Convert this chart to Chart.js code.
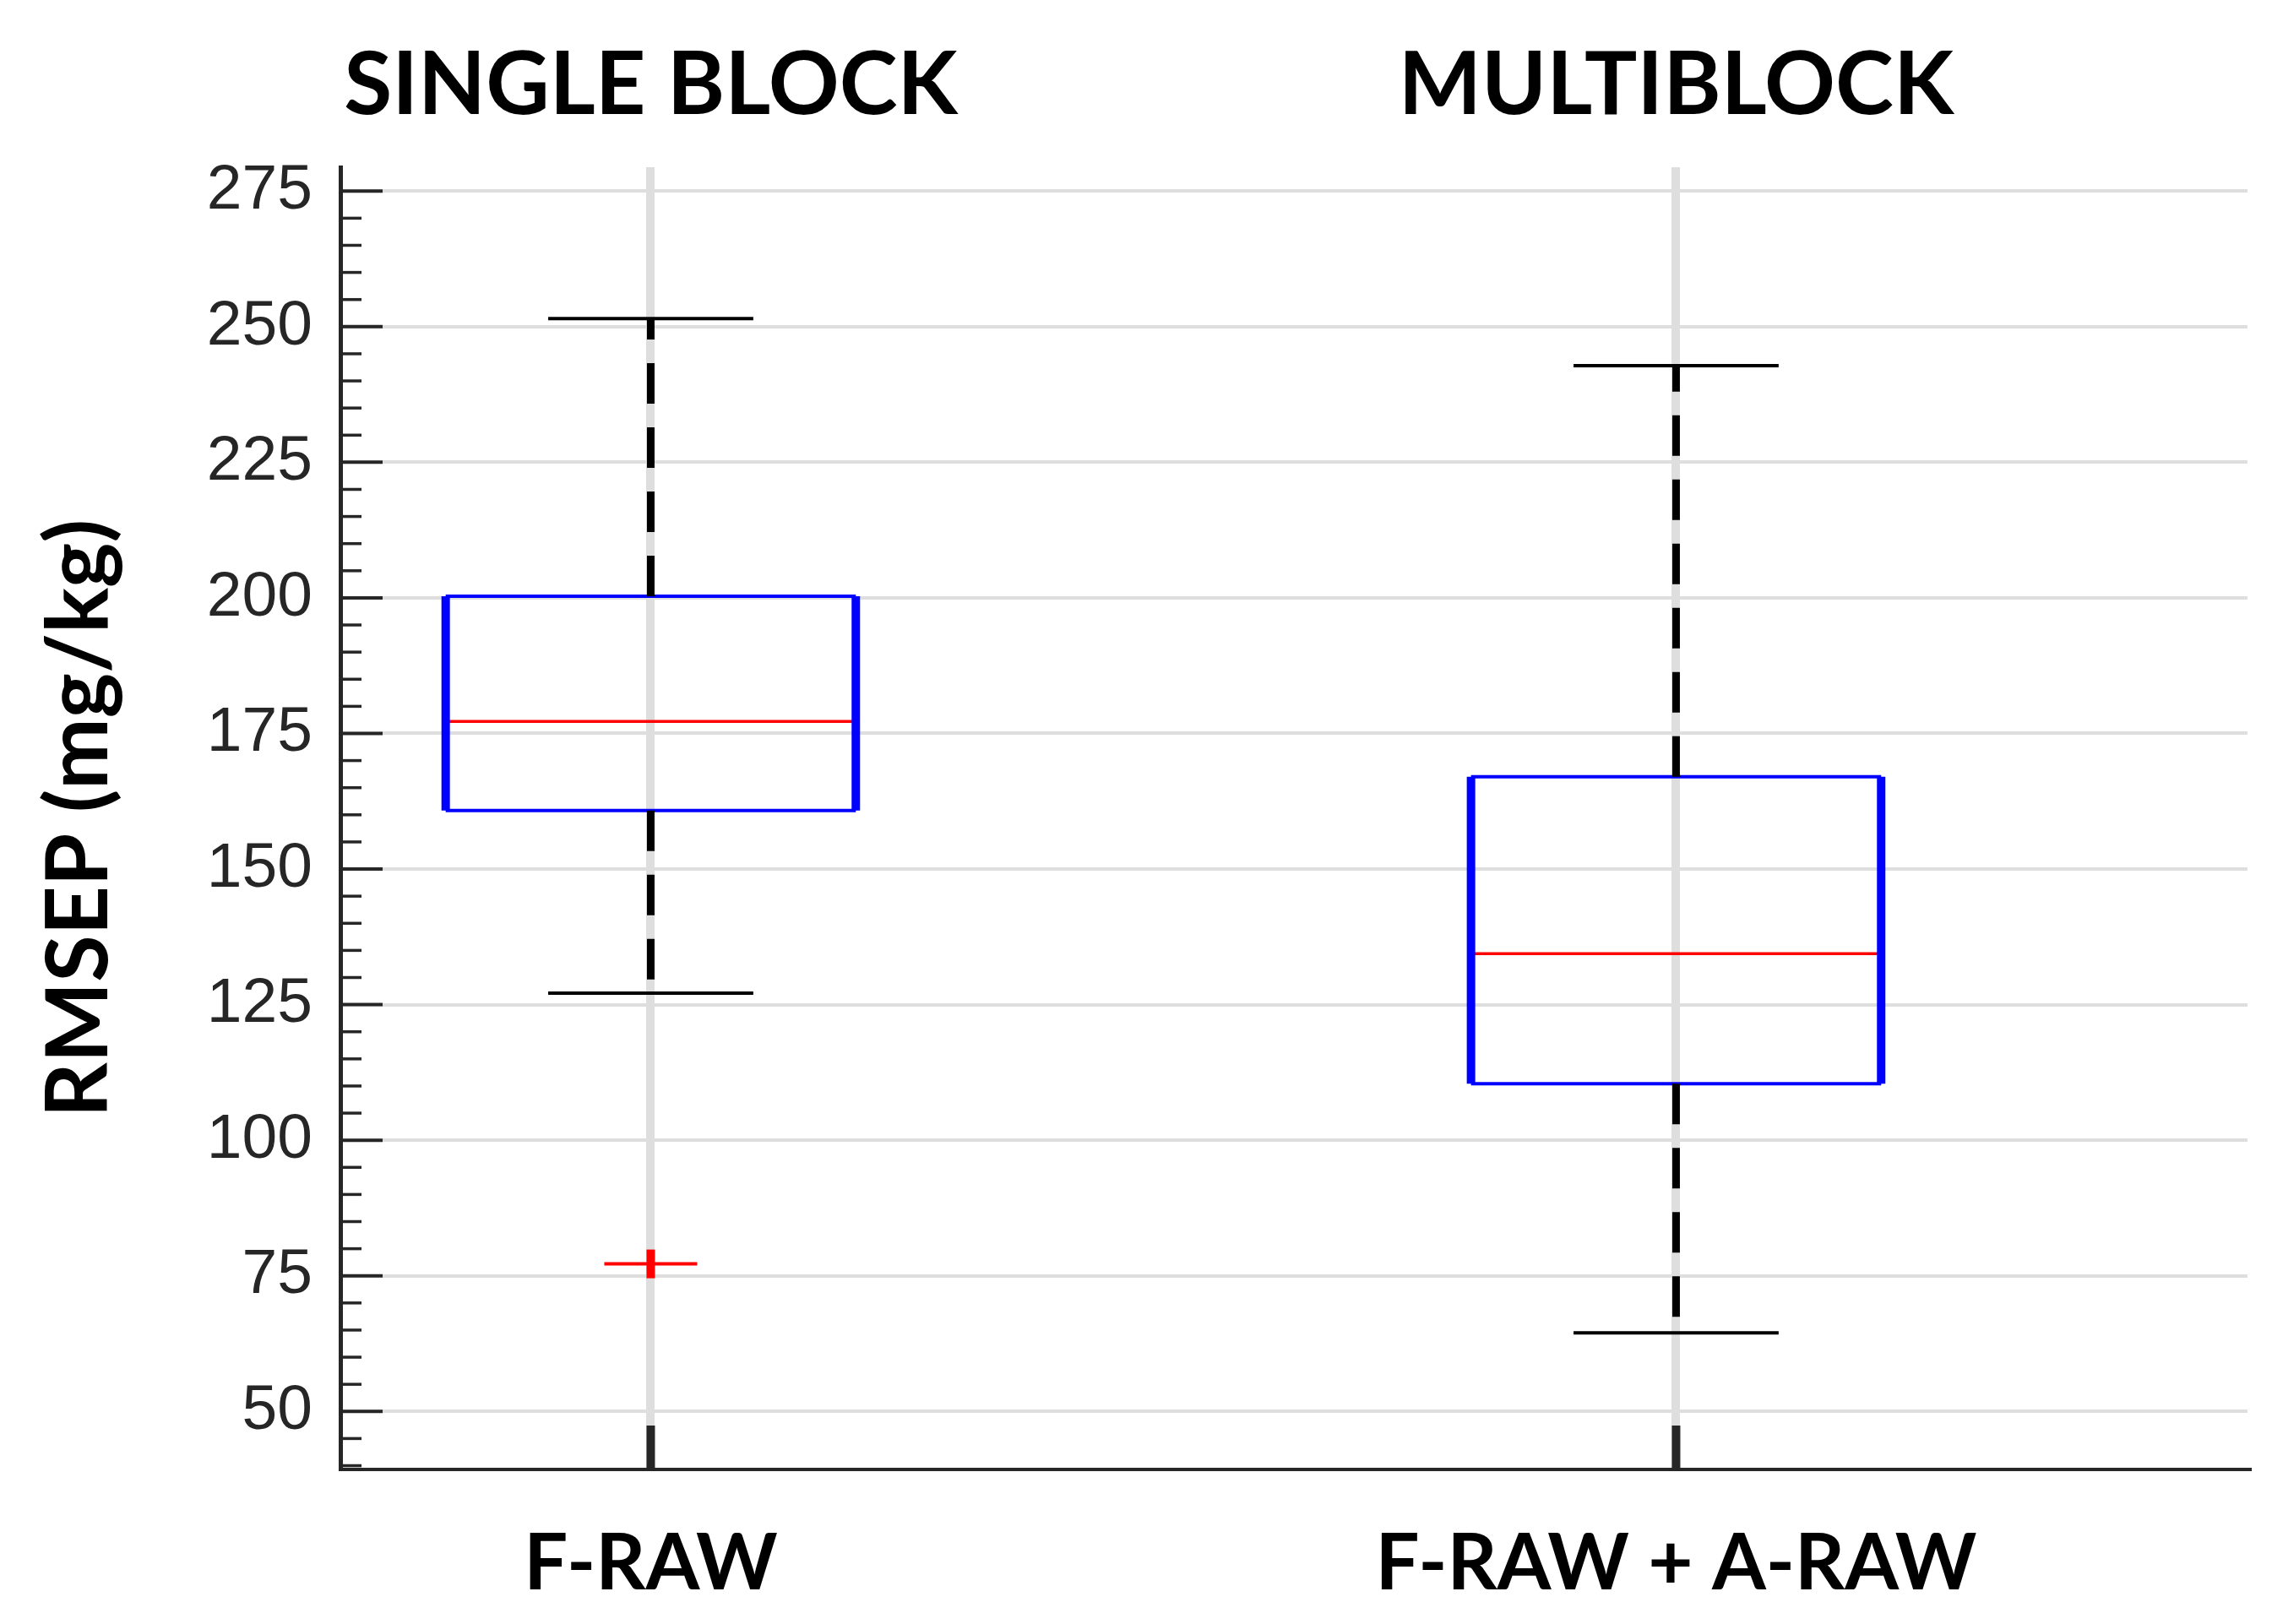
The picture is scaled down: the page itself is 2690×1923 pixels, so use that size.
<!DOCTYPE html>
<html>
<head>
<meta charset="utf-8">
<script src="https://cdn.jsdelivr.net/npm/chart.js@4/dist/chart.umd.min.js"></script>
<style>
  html, body { margin: 0; padding: 0; background: #fff; overflow: hidden; }
  #wrap { width: 2690px; height: 1923px; position: relative; }
  #wrap canvas { display: block; }
</style>
</head>
<body>
<div id="wrap"><canvas id="box-chart"></canvas></div>
<script>
// boxplot stats (RMSEP, mg/kg)
const categories = ['F-RAW', 'F-RAW + A-RAW'];
const groupTitles = ['SINGLE BLOCK', 'MULTIBLOCK'];
const lowerWhisker = [127.1, 64.5];
const q1 = [160.8, 110.4];
const median = [177.2, 134.4];
const q3 = [200.3, 167.0];
const upperWhisker = [251.5, 242.8];
const outliers = [[77.2], []];
const yTickStep = 5;
const yLabelStep = 25;

const positions = categories.map((c, i) => i + 1);
const boxHalf = 0.2, capHalf = 0.1;

function seg(x1, y1, x2, y2, style) {
  return Object.assign({
    data: [{x: x1, y: y1}, {x: x2, y: y2}],
    showLine: true, pointRadius: 0, fill: false
  }, style);
}

const blueThick = {borderColor: '#0000ff', borderWidth: 10};
const blueThin = {borderColor: '#0000ff', borderWidth: 4};
const whiskerStyle = {borderColor: '#000000', borderWidth: 9, borderDash: [48, 28], borderCapStyle: 'butt'};
const capStyle = {borderColor: '#000000', borderWidth: 4};
const medianStyle = {borderColor: '#ff0000', borderWidth: 3.5};

const datasets = [];
positions.forEach((p, i) => {
  // whiskers go out from the box
  datasets.push(seg(p, q3[i], p, upperWhisker[i], whiskerStyle));
  datasets.push(seg(p, q1[i], p, lowerWhisker[i], whiskerStyle));
  datasets.push(seg(p - capHalf, upperWhisker[i], p + capHalf, upperWhisker[i], capStyle));
  datasets.push(seg(p - capHalf, lowerWhisker[i], p + capHalf, lowerWhisker[i], capStyle));
  // box
  datasets.push(seg(p - boxHalf, q3[i], p + boxHalf, q3[i], blueThin));
  datasets.push(seg(p - boxHalf, q1[i], p + boxHalf, q1[i], blueThin));
  datasets.push(seg(p - boxHalf, q1[i], p - boxHalf, q3[i], blueThick));
  datasets.push(seg(p + boxHalf, q1[i], p + boxHalf, q3[i], blueThick));
  datasets.push(seg(p - boxHalf, median[i], p + boxHalf, median[i], medianStyle));
  // outliers as red plus marks
  if (outliers[i].length) {
    const pts = outliers[i].map(v => ({x: p, y: v}));
    datasets.push({data: pts, showLine: false, pointStyle: 'line', pointRadius: 55,
      pointBorderWidth: 4, pointBorderColor: '#ff0000', pointBackgroundColor: '#ff0000'});
    datasets.push({data: pts, showLine: false, pointStyle: 'line', pointRadius: 17, pointRotation: 90,
      pointBorderWidth: 10, pointBorderColor: '#ff0000', pointBackgroundColor: '#ff0000'});
  }
});

// tick marks pointing into the plot, like the original
const innerTicks = {
  id: 'innerTicks',
  beforeDatasetsDraw(chart) {
    const {ctx, chartArea, scales: {x, y}} = chart;
    ctx.save();
    ctx.strokeStyle = '#262626';
    y.ticks.forEach(t => {
      const py = y.getPixelForValue(t.value);
      const major = t.value % yLabelStep === 0;
      ctx.lineWidth = major ? 4 : 3.5;
      ctx.beginPath();
      ctx.moveTo(chartArea.left, py);
      ctx.lineTo(chartArea.left + (major ? 50 : 25), py);
      ctx.stroke();
    });
    ctx.lineWidth = 10;
    x.ticks.forEach(t => {
      const px = x.getPixelForValue(t.value);
      ctx.beginPath();
      ctx.moveTo(px, chartArea.bottom);
      ctx.lineTo(px, chartArea.bottom - 52);
      ctx.stroke();
    });
    ctx.restore();
  }
};

const xMin = 0.6973, xMax = 2.5573;

function noSidePad(s) {
  s.paddingLeft = 0;
  s.paddingRight = 0;
}

new Chart(document.getElementById('box-chart'), {
  type: 'scatter',
  data: {datasets: datasets},
  plugins: [innerTicks],
  options: {
    responsive: true,
    maintainAspectRatio: false,
    devicePixelRatio: 1,
    animation: false,
    // big outlier marker would otherwise add auto padding on the right
    layout: {autoPadding: false, padding: {left: 0, top: 0, right: 29, bottom: 0}},
    plugins: {legend: {display: false}, tooltip: {enabled: false}},
    scales: {
      x: {
        type: 'linear', position: 'bottom', min: xMin, max: xMax,
        afterBuildTicks: s => { s.ticks = positions.map(v => ({value: v})); },
        afterFit: s => { s.height = 183; noSidePad(s); },
        ticks: {
          callback: (v, i) => categories[i],
          autoSkip: false, maxRotation: 0, padding: 57, color: '#000',
          font: {family: 'Lato', weight: 'bold', size: 92}
        },
        grid: {color: '#dedede', lineWidth: 10, drawTicks: false},
        border: {color: '#262626', width: 4}
      },
      x2: {
        type: 'linear', position: 'top', min: xMin, max: xMax,
        afterBuildTicks: s => { s.ticks = positions.map(v => ({value: v})); },
        afterFit: s => { s.height = 198; noSidePad(s); },
        ticks: {
          callback: (v, i) => groupTitles[i],
          autoSkip: false, maxRotation: 0, padding: 26, color: '#000',
          font: {family: 'Lato', weight: 'bold', size: 104}
        },
        grid: {display: false},
        border: {display: false}
      },
      y: {
        type: 'linear', min: 39.3, max: 279.4,
        afterFit: s => { s.width = 403; s.paddingTop = 0; s.paddingBottom = 0; },
        ticks: {
          stepSize: yTickStep, includeBounds: false, autoSkip: false,
          callback: v => (v % yLabelStep === 0 ? v : ''),
          color: '#262626', padding: 33,
          font: {family: 'Liberation Sans', size: 75}
        },
        grid: {
          color: c => (c.tick.value % yLabelStep === 0 ? '#dedede' : 'rgba(0,0,0,0)'),
          lineWidth: 4, drawTicks: false
        },
        border: {color: '#262626', width: 5},
        title: {
          display: true, text: 'RMSEP (mg/kg)', color: '#000', padding: {top: 34},
          font: {family: 'Lato', weight: 'bold', size: 101}
        }
      }
    }
  }
});
</script>
</body>
</html>
